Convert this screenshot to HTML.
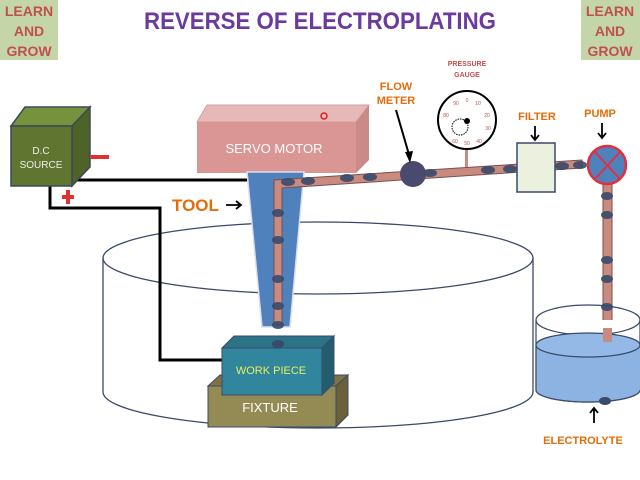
<!DOCTYPE html>
<html><head><style>
html,body{margin:0;padding:0;background:#fff;}
svg{display:block;font-family:"Liberation Sans",sans-serif;}
</style></head><body>
<svg width="640" height="480" viewBox="0 0 640 480" xmlns="http://www.w3.org/2000/svg">
<!-- logos -->
<rect x="0" y="0" width="58" height="60" fill="#c4d6a8"/>
<rect x="581" y="0" width="59" height="60" fill="#c4d6a8"/>
<g fill="#c0504d" font-weight="bold" font-size="14" text-anchor="middle">
<text x="29" y="16">LEARN</text><text x="29" y="36">AND</text><text x="29" y="56">GROW</text>
<text x="610" y="16">LEARN</text><text x="610" y="36">AND</text><text x="610" y="56">GROW</text>
</g>
<text x="320" y="29" text-anchor="middle" font-size="24" font-weight="bold" fill="#6a3aa0" textLength="352" lengthAdjust="spacingAndGlyphs">REVERSE OF ELECTROPLATING</text>

<!-- big tank -->
<path d="M103,258 L103,392 A215,36 0 0 0 533,392 L533,258" fill="#fff" stroke="#3a4a6a" stroke-width="1.3"/>
<ellipse cx="318" cy="258" rx="215" ry="36" fill="none" stroke="#3a4a6a" stroke-width="1.3"/>

<!-- wires -->
<path d="M74,180 L247,180" stroke="#000" stroke-width="3" fill="none"/>
<path d="M50,186 L50,208 L160,208 L160,360 L224,360" stroke="#000" stroke-width="3" fill="none"/>

<!-- DC source -->
<polygon points="11,126 25,107 90,107 72,126" fill="#76923c" stroke="#3a4a5a" stroke-width="1.5"/>
<polygon points="72,126 90,107 90,167 72,186" fill="#4f6228" stroke="#3a4a5a" stroke-width="1.5"/>
<rect x="11" y="126" width="61" height="60" fill="#5f7530" stroke="#3a4a5a" stroke-width="1.5"/>
<text x="41" y="154" text-anchor="middle" font-size="10" fill="#eee">D.C</text>
<text x="41" y="168" text-anchor="middle" font-size="10" fill="#eee">SOURCE</text>
<rect x="90" y="155" width="19" height="4" fill="#e03030"/>
<rect x="62" y="195" width="12" height="4" fill="#e03030"/>
<rect x="66" y="190" width="4" height="14" fill="#e03030"/>

<!-- servo -->
<polygon points="197,122 207,105 369,105 356,122" fill="#e6b8b7" stroke="#d0a0a0"/>
<polygon points="356,122 369,105 369,160 356,173" fill="#c98a88"/>
<rect x="197" y="122" width="159" height="51" fill="#d99694"/>
<text x="274" y="153" text-anchor="middle" font-size="13" fill="#fff">SERVO MOTOR</text>
<circle cx="324" cy="116" r="3" fill="none" stroke="#e02020" stroke-width="1.5"/>

<!-- tool -->
<polygon points="247,172 304,172 290,327 262,327" fill="#4f81bd" stroke="#dde" stroke-width="1.5"/>
<text x="172" y="211" font-size="17" font-weight="bold" fill="#e46c0a">TOOL</text>
<path d="M226,205 L241,205 M236,201 L241,205 L236,209" stroke="#000" stroke-width="1.8" fill="none"/>

<!-- pipes -->
<g stroke="#7a5050" stroke-width="1" fill="#c98a80">
<polygon points="274,325 274,180 582,160 582,168 282,188 282,325"/>
<rect x="603" y="180" width="9" height="160"/>
</g>
<g fill="#3a4a6a" opacity="0.9">
<ellipse cx="288" cy="182" rx="7" ry="4"/><ellipse cx="308" cy="181" rx="7" ry="4"/>
<ellipse cx="347" cy="178" rx="7" ry="4"/><ellipse cx="370" cy="177" rx="7" ry="4"/>
<ellipse cx="430" cy="173" rx="7" ry="4"/><ellipse cx="488" cy="170" rx="7" ry="4"/><ellipse cx="510" cy="169" rx="7" ry="4"/>
<ellipse cx="562" cy="166" rx="7" ry="4"/><ellipse cx="580" cy="165" rx="7" ry="4"/>
<ellipse cx="278" cy="213" rx="6" ry="4"/><ellipse cx="278" cy="240" rx="6" ry="4"/>
<ellipse cx="278" cy="279" rx="6" ry="4"/><ellipse cx="278" cy="306" rx="6" ry="4"/><ellipse cx="278" cy="325" rx="6" ry="4"/>
<ellipse cx="278" cy="340" rx="6" ry="4"/>
<ellipse cx="607" cy="196" rx="6" ry="4"/><ellipse cx="607" cy="215" rx="6" ry="4"/>
<ellipse cx="607" cy="260" rx="6" ry="4"/><ellipse cx="607" cy="279" rx="6" ry="4"/>
<ellipse cx="607" cy="307" rx="6" ry="4"/><ellipse cx="607" cy="328" rx="6" ry="4"/>
<ellipse cx="605" cy="357" rx="6" ry="4"/><ellipse cx="605" cy="377" rx="6" ry="4"/>
</g>

<!-- flow meter -->
<circle cx="413" cy="174" r="13" fill="#4a4a6e"/>
<text x="396" y="90" text-anchor="middle" font-size="11" font-weight="bold" fill="#e46c0a">FLOW</text>
<text x="396" y="104" text-anchor="middle" font-size="11" font-weight="bold" fill="#e46c0a">METER</text>
<path d="M396,110 L410,158" stroke="#000" stroke-width="2"/>
<polygon points="410,163 405,152 413,151" fill="#000"/>

<!-- gauge -->
<rect x="465" y="149" width="3" height="18" fill="#c98a80"/>
<circle cx="467" cy="120" r="29" fill="#fff" stroke="#000" stroke-width="2"/>
<circle cx="460" cy="127" r="8" fill="none" stroke="#000" stroke-width="1" stroke-dasharray="1.5 1"/>
<circle cx="467" cy="121" r="3" fill="#000"/>
<g font-size="5" fill="#c05050" text-anchor="middle">
<text x="467" y="102">0</text><text x="456" y="105">90</text><text x="478" y="105">10</text>
<text x="446" y="117">80</text><text x="487" y="117">20</text><text x="488" y="130">30</text>
<text x="455" y="143">60</text><text x="467" y="145">50</text><text x="479" y="143">40</text>
</g>
<text x="467" y="66" text-anchor="middle" font-size="7" font-weight="bold" fill="#c0504d">PRESSURE</text>
<text x="467" y="77" text-anchor="middle" font-size="7" font-weight="bold" fill="#c0504d">GAUGE</text>

<!-- filter -->
<rect x="517" y="143" width="38" height="49" fill="#ebf1de" stroke="#3a4a6a" stroke-width="1.5"/>
<text x="537" y="120" text-anchor="middle" font-size="11" font-weight="bold" fill="#e46c0a">FILTER</text>
<path d="M535,126 L535,139 M531,135 L535,140 L539,135" stroke="#000" stroke-width="1.8" fill="none"/>

<!-- pump -->
<circle cx="607" cy="165" r="19" fill="#4f81bd" stroke="#e03040" stroke-width="2.5"/>
<path d="M595,152 L619,178 M596,178 L620,152" stroke="#e03040" stroke-width="2"/>
<text x="600" y="117" text-anchor="middle" font-size="11" font-weight="bold" fill="#e46c0a">PUMP</text>
<path d="M602,123 L602,137 M598,133 L602,138 L606,133" stroke="#000" stroke-width="1.8" fill="none"/>

<!-- electrolyte tank -->
<path d="M536,320 L536,390 A52,12 0 0 0 640,390 L640,320" fill="#fff" stroke="#3a4a6a" stroke-width="1.2"/>
<ellipse cx="588" cy="320" rx="52" ry="15" fill="none" stroke="#3a4a6a" stroke-width="1.2"/>
<path d="M536,345 L536,390 A52,12 0 0 0 640,390 L640,345 Z" fill="#8db3e2"/>
<ellipse cx="588" cy="345" rx="52" ry="12" fill="#95b9e6" stroke="#3a4a6a" stroke-width="1.2"/>
<path d="M536,345 L536,390 A52,12 0 0 0 640,390" fill="none" stroke="#3a4a6a" stroke-width="1.2"/>
<rect x="603" y="328" width="9" height="14" fill="#c98a80"/>
<ellipse cx="605" cy="401" rx="6" ry="4" fill="#3a4a6a"/><ellipse cx="605" cy="425" rx="6" ry="4" fill="#3a4a6a" opacity="0"/>
<path d="M594,423 L594,409 M590,413 L594,408 L598,413" stroke="#000" stroke-width="1.8" fill="none"/>
<text x="583" y="444" text-anchor="middle" font-size="11" font-weight="bold" fill="#e46c0a">ELECTROLYTE</text>

<!-- fixture -->
<polygon points="208,386 220,375 348,375 336,386" fill="#7f7344" stroke="#3a4a6a"/>
<polygon points="336,386 348,375 348,415 336,427" fill="#6b6038" stroke="#3a4a6a"/>
<rect x="208" y="386" width="128" height="41" fill="#948a54" stroke="#3a4a6a"/>
<text x="270" y="412" text-anchor="middle" font-size="13" fill="#fff">FIXTURE</text>
<!-- work piece -->
<polygon points="222,348 234,336 334,336 322,348" fill="#2c7387" stroke="#3a4a6a"/>
<polygon points="322,348 334,336 334,383 322,395" fill="#245e6e" stroke="#3a4a6a"/>
<rect x="222" y="348" width="100" height="47" fill="#31859c" stroke="#3a4a6a"/>
<text x="271" y="374" text-anchor="middle" font-size="11" fill="#e8f060">WORK PIECE</text>
<ellipse cx="278" cy="344" rx="6" ry="4" fill="#3a4a6a"/>
</svg>
</body></html>
